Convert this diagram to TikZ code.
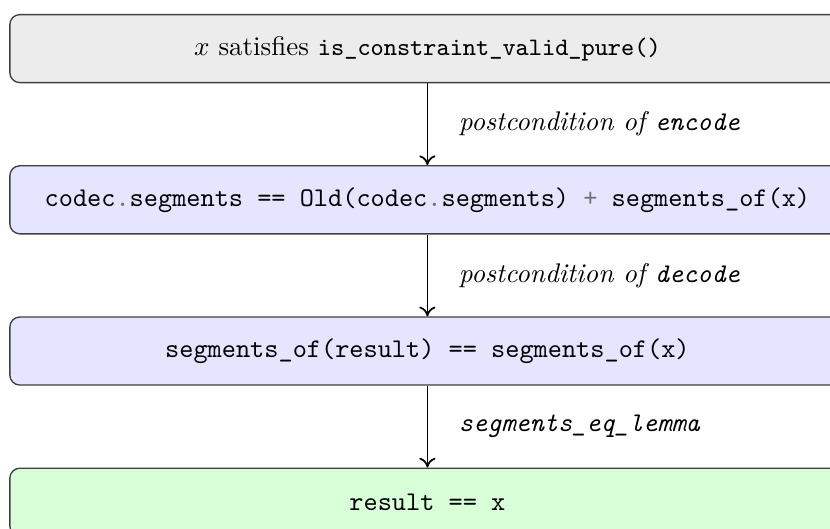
\documentclass[tikz,border=0pt]{standalone}
\usepackage{xcolor}
\usepackage{tikz}
\usetikzlibrary{positioning,arrows.meta}
\tikzset{
    stmt/.style={rectangle, draw=black!75, line width=0.5pt, rounded corners=3.7pt, text centered, minimum width=309.3pt, minimum height=25.2pt},
    line/.style={draw, line width=0.65pt, -{To[length=3.6pt,width=6pt]}},
    why/.style={right=8pt, font=\itshape}
}
\newcommand{\op}[1]{\textcolor{black!55}{#1}}

\begin{document}
\begin{tikzpicture}[node distance=30.3pt]
    \useasboundingbox (-158.3pt,18pt) rectangle (149.1pt,-177.9pt);

    % Chain of facts
    \node [stmt, fill=gray!15] (pre) at (0,0) {$x$ satisfies {\fontsize{9.3pt}{11pt}\selectfont\texttt{is\_constraint\_valid\_pure()}}};
    \node [stmt, fill=blue!10, below=of pre] (enc) {\texttt{codec\op{.}segments == Old(codec\op{.}segments) \op{+} segments\_of(x)}};
    \node [stmt, fill=blue!10, below=of enc] (dec) {\texttt{segments\_of(result) == segments\_of(x)}};
    \node [stmt, fill=green!15, below=of dec] (res) {\texttt{result == x}};

    % Justifications
    \path [line] (pre) -- node [why] {postcondition of \texttt{encode}} (enc);
    \path [line] (enc) -- node [why] {postcondition of \texttt{decode}} (dec);
    \path [line] (dec) -- node [why] {\texttt{segments\_eq\_lemma}} (res);
\end{tikzpicture}
\end{document}
